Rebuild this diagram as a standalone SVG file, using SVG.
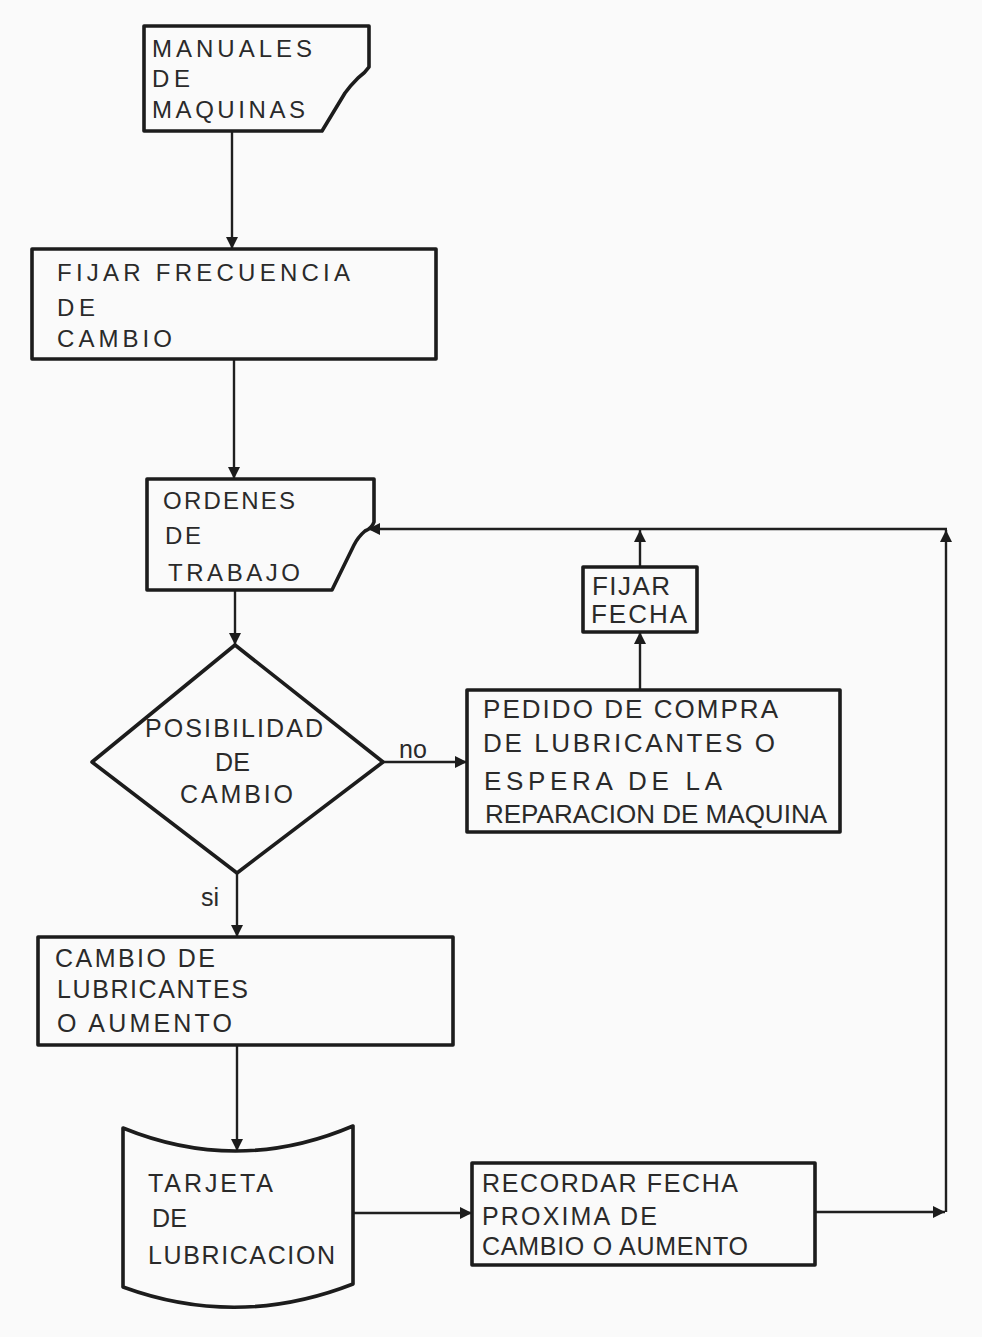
<svg xmlns="http://www.w3.org/2000/svg" width="982" height="1337" viewBox="0 0 982 1337">
  <style>
    .shape { fill: none; stroke: #1c1c1c; stroke-width: 3.6; stroke-linejoin: round; }
    .conn { fill: none; stroke: #1f1f1f; stroke-width: 2.4; }
    text { font-family: "Liberation Sans", Arial, sans-serif; fill: #2a2a2a; }
    .t21 { font-size: 24px; }
    .t23 { font-size: 25px; }
    .t25 { font-size: 26px; }
    .lbl { font-size: 25px; }
  </style>
  <defs>
    <marker id="arrow" viewBox="0 0 10 10" refX="10" refY="5" markerWidth="14" markerHeight="12" markerUnits="userSpaceOnUse" orient="auto">
      <path d="M0,0 L10,5 L0,10 z" fill="#1c1c1c"/>
    </marker>
  </defs>

  <rect x="0" y="0" width="982" height="1337" fill="#fafafa"/>

  <!-- connectors -->
  <g id="connectors">
    <path class="conn" d="M232,131 V249" marker-end="url(#arrow)"/>
    <path class="conn" d="M234,360 V479" marker-end="url(#arrow)"/>
    <path class="conn" d="M235,591 V645" marker-end="url(#arrow)"/>
    <path class="conn" d="M237,873 V937" marker-end="url(#arrow)"/>
    <path class="conn" d="M383,762 H467" marker-end="url(#arrow)"/>
    <path class="conn" d="M640,690 V632" marker-end="url(#arrow)"/>
    <path class="conn" d="M640,567 V530" marker-end="url(#arrow)"/>
    <path class="conn" d="M237,1045 V1151" marker-end="url(#arrow)"/>
    <path class="conn" d="M353,1213 H472" marker-end="url(#arrow)"/>
    <path class="conn" d="M815,1212 H945" marker-end="url(#arrow)"/>
    <path class="conn" d="M946,1212 V530" marker-end="url(#arrow)"/>
    <path class="conn" d="M947,529 H368" marker-end="url(#arrow)"/>
    <text class="lbl" x="399" y="758">no</text>
    <text class="lbl" x="201" y="906">si</text>
  </g>

  <!-- document: machine manuals -->
  <g id="manuales">
    <path class="shape" d="M144,26 H369 V67 Q365,73 358,78 Q350,86 345,93 L322,131 H144 Z"/>
    <text class="t21" x="152" y="57" textLength="160" lengthAdjust="spacing">MANUALES</text>
    <text class="t21" x="152" y="87" textLength="38" lengthAdjust="spacing">DE</text>
    <text class="t21" x="152" y="118" textLength="153" lengthAdjust="spacing">MAQUINAS</text>
  </g>

  <!-- process: set change frequency -->
  <g id="fijar-frecuencia">
    <rect class="shape" x="32" y="249" width="404" height="110"/>
    <text class="t21" x="57" y="281" textLength="293" lengthAdjust="spacing">FIJAR FRECUENCIA</text>
    <text class="t21" x="57" y="316" textLength="38" lengthAdjust="spacing">DE</text>
    <text class="t21" x="57" y="347" textLength="115" lengthAdjust="spacing">CAMBIO</text>
  </g>

  <!-- document: work orders -->
  <g id="ordenes">
    <path class="shape" d="M147,479 H374 V522 Q372,528 365,531 Q358,537 354,545 L332,590 H147 Z"/>
    <text class="t21" x="163" y="509" textLength="132" lengthAdjust="spacing">ORDENES</text>
    <text class="t21" x="165" y="544" textLength="36" lengthAdjust="spacing">DE</text>
    <text class="t21" x="168" y="581" textLength="132" lengthAdjust="spacing">TRABAJO</text>
  </g>

  <!-- decision -->
  <g id="posibilidad">
    <path class="shape" d="M235,645 L383,762 L237,873 L92,762 Z"/>
    <text class="t23" x="145" y="737" textLength="178" lengthAdjust="spacing">POSIBILIDAD</text>
    <text class="t23" x="215" y="771" textLength="35" lengthAdjust="spacing">DE</text>
    <text class="t23" x="180" y="803" textLength="113" lengthAdjust="spacing">CAMBIO</text>
  </g>

  <!-- process: purchase order / wait for repair -->
  <g id="pedido">
    <rect class="shape" x="467" y="690" width="373" height="142"/>
    <text class="t25" x="483" y="718" textLength="295" lengthAdjust="spacing">PEDIDO DE COMPRA</text>
    <text class="t25" x="483" y="752" textLength="292" lengthAdjust="spacing">DE LUBRICANTES O</text>
    <text class="t25" x="484" y="790" textLength="238" lengthAdjust="spacing">ESPERA DE LA</text>
    <text class="t25" x="485" y="823" textLength="342" lengthAdjust="spacing">REPARACION DE MAQUINA</text>
  </g>

  <!-- process: set date -->
  <g id="fijar-fecha">
    <rect class="shape" x="583" y="567" width="114" height="65"/>
    <text class="t25" x="592" y="595" textLength="78" lengthAdjust="spacing">FIJAR</text>
    <text class="t25" x="591" y="623" textLength="96" lengthAdjust="spacing">FECHA</text>
  </g>

  <!-- process: change lubricant or top up -->
  <g id="cambio">
    <rect class="shape" x="38" y="937" width="415" height="108"/>
    <text class="t23" x="55" y="967" textLength="160" lengthAdjust="spacing">CAMBIO DE</text>
    <text class="t23" x="57" y="998" textLength="191" lengthAdjust="spacing">LUBRICANTES</text>
    <text class="t23" x="57" y="1032" textLength="175" lengthAdjust="spacing">O AUMENTO</text>
  </g>

  <!-- card: lubrication record -->
  <g id="tarjeta">
    <path class="shape" d="M123,1128 Q238,1175 353,1126 V1284 Q238,1329 123,1287 Z"/>
    <text class="t23" x="148" y="1192" textLength="125" lengthAdjust="spacing">TARJETA</text>
    <text class="t23" x="152" y="1227" textLength="35" lengthAdjust="spacing">DE</text>
    <text class="t23" x="148" y="1264" textLength="187" lengthAdjust="spacing">LUBRICACION</text>
  </g>

  <!-- process: note next change date -->
  <g id="recordar">
    <rect class="shape" x="472" y="1163" width="343" height="102"/>
    <text class="t23" x="482" y="1192" textLength="256" lengthAdjust="spacing">RECORDAR FECHA</text>
    <text class="t23" x="482" y="1225" textLength="175" lengthAdjust="spacing">PROXIMA DE</text>
    <text class="t23" x="482" y="1255" textLength="266" lengthAdjust="spacing">CAMBIO O AUMENTO</text>
  </g>
</svg>
